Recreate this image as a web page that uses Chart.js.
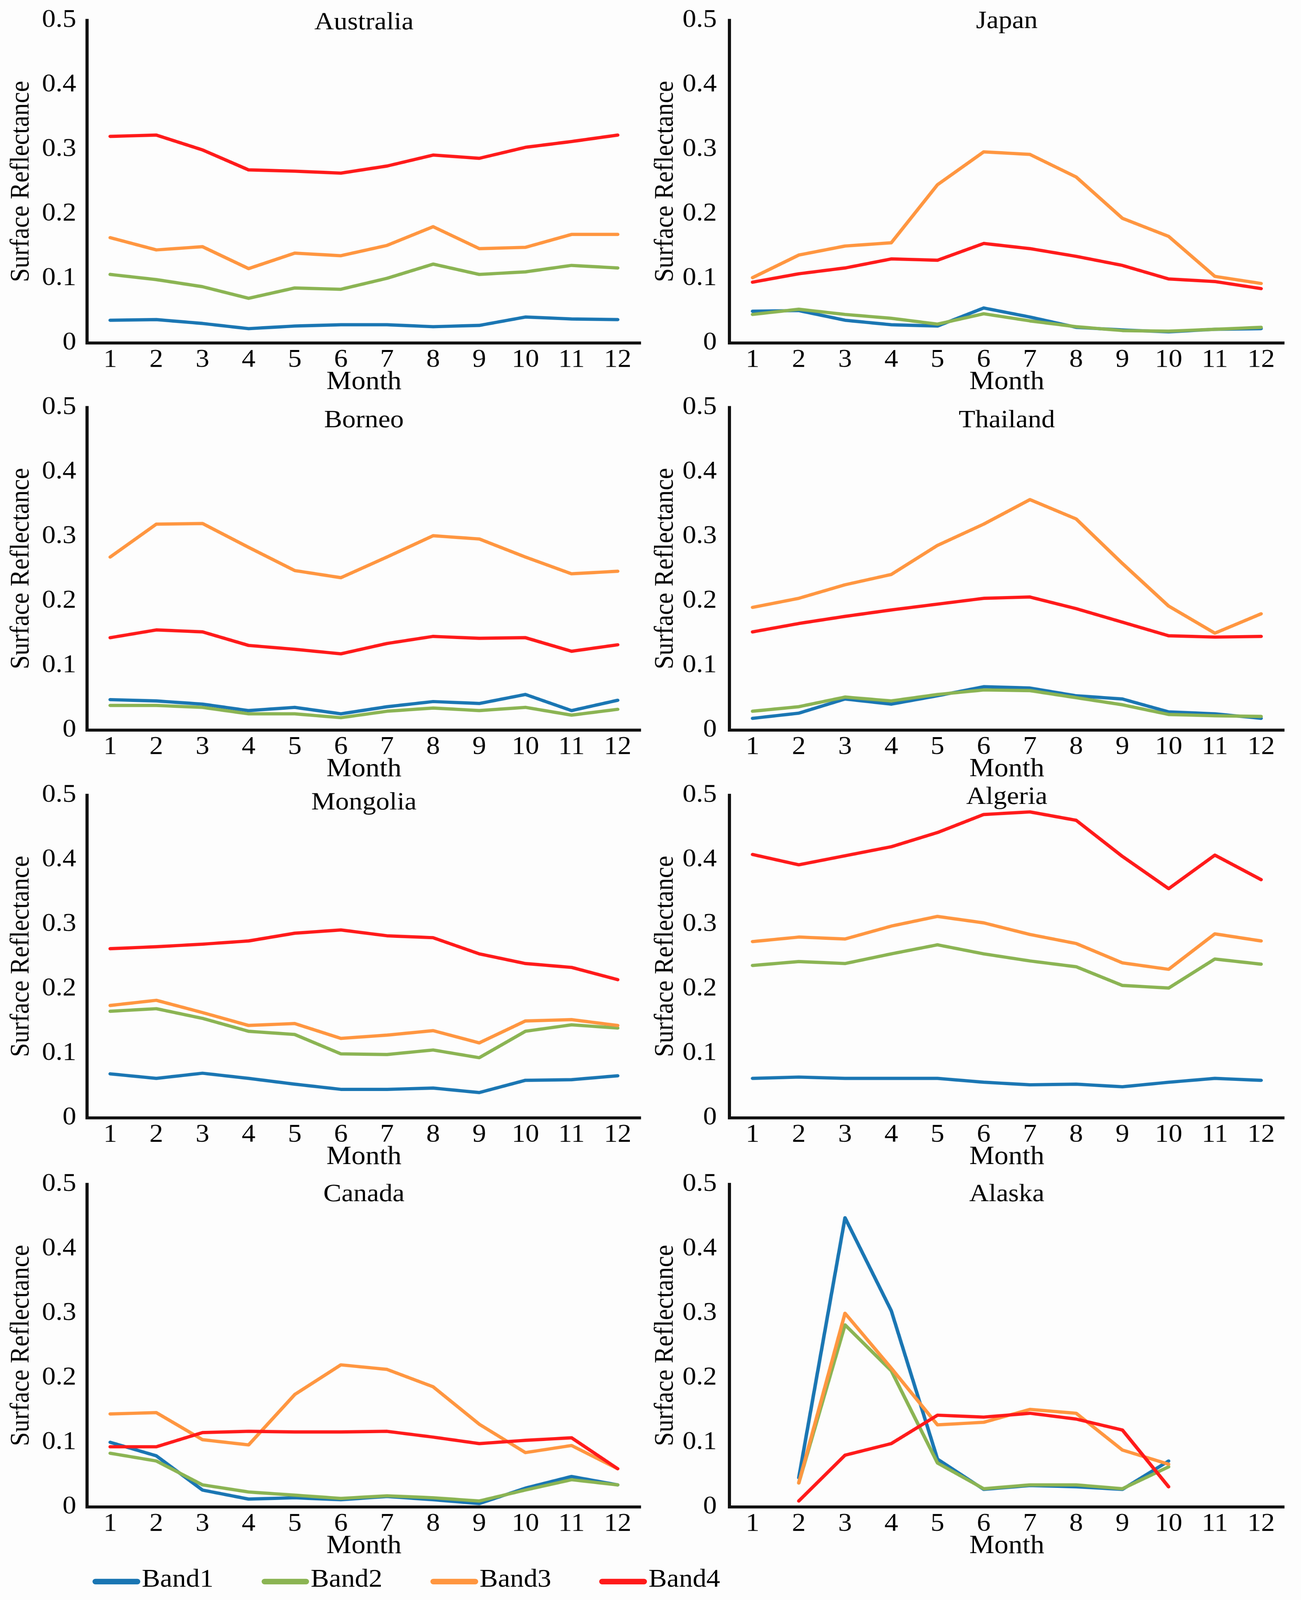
<!DOCTYPE html>
<html>
<head>
<meta charset="utf-8">
<script src="https://cdn.jsdelivr.net/npm/chart.js@4.4.1/dist/chart.umd.min.js"></script>
<style>
  html, body { margin: 0; padding: 0; background: #fdfdfd; overflow: hidden; }
  #page { position: absolute; left: 0; top: 0; width: 3700px; height: 4910px; transform-origin: 0 0; }
  #page canvas { position: absolute; }
  .lg-mark { position: absolute; height: 17px; border-radius: 9px; }
  .lg-text { position: absolute; font: 78px 'Liberation Serif', 'Times New Roman', serif;
             line-height: 78px; color: #000; white-space: nowrap; }
</style>
</head>
<body>
<div id="page"></div>
<script>
// ---- data ----
const months = ['1', '2', '3', '4', '5', '6', '7', '8', '9', '10', '11', '12'];
const yTickLabels = ['0', '0.1', '0.2', '0.3', '0.4', '0.5'];
const bandNames = ['Band1', 'Band2', 'Band3', 'Band4'];
const panelNames = ['Australia', 'Japan', 'Borneo', 'Thailand', 'Mongolia', 'Algeria', 'Canada', 'Alaska'];

// each list: [Band1, Band2, Band3, Band4]
const australia = [
    [0.035, 0.036, 0.030, 0.022, 0.026, 0.028, 0.028, 0.025, 0.027, 0.040, 0.037, 0.036],
    [0.106, 0.098, 0.087, 0.069, 0.085, 0.083, 0.100, 0.122, 0.106, 0.110, 0.120, 0.116],
    [0.163, 0.144, 0.149, 0.115, 0.139, 0.135, 0.151, 0.180, 0.146, 0.148, 0.168, 0.168],
    [0.320, 0.322, 0.299, 0.268, 0.266, 0.263, 0.274, 0.291, 0.286, 0.303, 0.312, 0.322]
];
const japan = [
    [0.049, 0.050, 0.035, 0.028, 0.026, 0.054, 0.040, 0.024, 0.020, 0.017, 0.021, 0.022],
    [0.044, 0.052, 0.044, 0.038, 0.029, 0.045, 0.034, 0.025, 0.019, 0.018, 0.021, 0.024],
    [0.101, 0.136, 0.150, 0.155, 0.245, 0.296, 0.292, 0.257, 0.193, 0.165, 0.103, 0.092],
    [0.094, 0.107, 0.116, 0.130, 0.128, 0.154, 0.146, 0.134, 0.120, 0.099, 0.095, 0.084]
];
const borneo = [
    [0.047, 0.045, 0.040, 0.030, 0.035, 0.025, 0.036, 0.044, 0.041, 0.055, 0.030, 0.046],
    [0.038, 0.038, 0.035, 0.025, 0.025, 0.019, 0.029, 0.034, 0.030, 0.035, 0.023, 0.032],
    [0.268, 0.319, 0.320, 0.283, 0.247, 0.236, 0.268, 0.301, 0.296, 0.268, 0.242, 0.246],
    [0.143, 0.155, 0.152, 0.131, 0.125, 0.118, 0.134, 0.145, 0.142, 0.143, 0.122, 0.132]
];
const thailand = [
    [0.018, 0.026, 0.048, 0.040, 0.053, 0.067, 0.065, 0.053, 0.048, 0.028, 0.025, 0.018],
    [0.029, 0.036, 0.051, 0.045, 0.055, 0.062, 0.061, 0.050, 0.039, 0.024, 0.022, 0.021],
    [0.190, 0.204, 0.225, 0.241, 0.286, 0.319, 0.357, 0.327, 0.258, 0.192, 0.150, 0.180],
    [0.152, 0.165, 0.176, 0.186, 0.195, 0.204, 0.206, 0.188, 0.167, 0.146, 0.144, 0.145]
];
const mongolia = [
    [0.068, 0.061, 0.069, 0.061, 0.052, 0.044, 0.044, 0.046, 0.039, 0.058, 0.059, 0.065],
    [0.165, 0.169, 0.154, 0.134, 0.129, 0.099, 0.098, 0.105, 0.093, 0.134, 0.144, 0.139],
    [0.174, 0.182, 0.163, 0.143, 0.146, 0.123, 0.128, 0.135, 0.116, 0.150, 0.152, 0.143],
    [0.262, 0.265, 0.269, 0.274, 0.286, 0.291, 0.282, 0.279, 0.254, 0.239, 0.233, 0.214]
];
const algeria = [
    [0.061, 0.063, 0.061, 0.061, 0.061, 0.055, 0.051, 0.052, 0.048, 0.055, 0.061, 0.058],
    [0.236, 0.242, 0.239, 0.254, 0.268, 0.254, 0.243, 0.234, 0.205, 0.201, 0.246, 0.238],
    [0.273, 0.280, 0.277, 0.297, 0.312, 0.302, 0.284, 0.270, 0.240, 0.230, 0.285, 0.274],
    [0.408, 0.392, 0.406, 0.420, 0.442, 0.470, 0.474, 0.461, 0.405, 0.355, 0.407, 0.369]
];
const canada = [
    [0.100, 0.079, 0.026, 0.012, 0.014, 0.011, 0.016, 0.011, 0.005, 0.029, 0.047, 0.034],
    [0.083, 0.071, 0.034, 0.023, 0.018, 0.013, 0.017, 0.014, 0.009, 0.026, 0.042, 0.034],
    [0.144, 0.146, 0.104, 0.096, 0.174, 0.220, 0.213, 0.186, 0.128, 0.084, 0.095, 0.059],
    [0.093, 0.093, 0.115, 0.117, 0.116, 0.116, 0.117, 0.108, 0.098, 0.103, 0.107, 0.059]
];
const alaska = [
    [null, 0.045, 0.448, 0.304, 0.074, 0.027, 0.033, 0.031, 0.027, 0.071, null, null],
    [null, 0.037, 0.282, 0.211, 0.068, 0.028, 0.034, 0.034, 0.028, 0.062, null, null],
    [null, 0.037, 0.300, 0.215, 0.127, 0.131, 0.151, 0.145, 0.088, 0.066, null, null],
    [null, 0.009, 0.080, 0.098, 0.142, 0.139, 0.145, 0.136, 0.119, 0.031, null, null]
];
const panelData = [australia, japan, borneo, thailand, mongolia, algeria, canada, alaska];

// ---- styles / layout ----
const bandColors = ['#1a76b3', '#8bb453', '#ff9640', '#ff1a1a'];
const FONT = "'Liberation Serif', 'Times New Roman', serif";
const SX = 0.9;                      // the original figure is squeezed sideways a bit
// the browser may give less height than the 4910px figure, so fit it in
const SY = Math.min(1, window.innerHeight / 4910);
const PANEL_W = 1665;                // px per column
const colAxisX = [223, 1867];        // x of the y axis line
const colAxisEnd = [1640, 3287];     // x where the x axis ends
const colTickPad = [31, 36];
const colTitlePad = [15, -3];
const rowTop = [62, 1250, 2440, 3634]; // y of 0.5
const plotH = 990;
const padTop = 62;
const xAxisH = 190;
const titleOffsets = [28, 24, 61, 61, 44, 27, 52, 52];

const page = document.getElementById('page');
page.style.transform = 'scale(' + SX + ',' + SY + ')';

Chart.defaults.font.family = FONT;
Chart.defaults.color = '#000';

// panel name drawn inside the plot, like the Excel chart titles
const panelTitlePlugin = {
    id: 'panelTitle',
    afterDraw(chart, args, opts) {
        const { ctx, chartArea } = chart;
        ctx.save();
        ctx.font = '77px ' + FONT;
        ctx.fillStyle = '#000';
        ctx.textAlign = 'center';
        ctx.textBaseline = 'alphabetic';
        ctx.fillText(opts.text, (chartArea.left + chartArea.right) / 2, chartArea.top + opts.offset);
        ctx.restore();
    }
};

panelNames.forEach((name, i) => {
    const row = Math.floor(i / 2);
    const col = i % 2;
    const cw = Math.round(PANEL_W / SX);
    const ch = padTop + plotH + xAxisH;
    const left0 = col * PANEL_W;

    const canvas = document.createElement('canvas');
    canvas.width = cw;
    canvas.height = ch;
    canvas.style.width = cw + 'px';
    canvas.style.height = ch + 'px';
    canvas.style.left = (left0 / SX) + 'px';
    canvas.style.top = (rowTop[row] - padTop) + 'px';
    page.appendChild(canvas);

    const yAxisW = (colAxisX[col] - left0) / SX;
    const padRight = (left0 + PANEL_W - colAxisEnd[col]) / SX;

    new Chart(canvas.getContext('2d'), {
        type: 'line',
        data: {
            labels: months,
            datasets: panelData[i].map((vals, b) => ({
                label: bandNames[b],
                data: vals,
                borderColor: bandColors[b],
                backgroundColor: bandColors[b],
                borderWidth: 10,
                pointRadius: 0,
                tension: 0,
                borderJoinStyle: 'round',
                borderCapStyle: 'round',
                spanGaps: false,
                order: 3 - b
            }))
        },
        options: {
            responsive: false,
            animation: false,
            devicePixelRatio: 1,
            layout: { padding: { top: padTop, right: padRight, left: 0, bottom: 0 } },
            plugins: {
                legend: { display: false },
                tooltip: { enabled: false },
                panelTitle: { text: name, offset: titleOffsets[i] }
            },
            scales: {
                x: {
                    offset: true,
                    grid: { display: false, drawTicks: false },
                    border: { display: true, color: '#111', width: 9 },
                    ticks: { padding: 6, font: { size: 78 }, color: '#000', maxRotation: 0, autoSkip: false },
                    title: { display: true, text: 'Month', color: '#000', font: { size: 80 }, padding: { top: 0, bottom: 21 } },
                    afterFit: s => { s.height = xAxisH; }
                },
                y: {
                    min: 0,
                    max: 0.5,
                    grid: { display: false, drawTicks: false },
                    border: { display: true, color: '#111', width: 9 },
                    ticks: {
                        stepSize: 0.1,
                        padding: colTickPad[col],
                        // small line height so the top label doesn't push the plot down
                        font: { size: 78, lineHeight: 0.6 },
                        color: '#000',
                        callback: v => yTickLabels[Math.round(v * 10)]
                    },
                    title: { display: true, text: 'Surface Reflectance', color: '#000', font: { size: 77 },
                             padding: { top: colTitlePad[col], bottom: 0 } },
                    afterFit: s => { s.width = yAxisW; }
                }
            }
        },
        plugins: [panelTitlePlugin]
    });
});

// legend row under the last panels
bandNames.forEach((band, b) => {
    const markLeft = 237 + b * 432.3;
    const mark = document.createElement('div');
    mark.className = 'lg-mark';
    mark.style.background = bandColors[b];
    mark.style.left = (markLeft / SX) + 'px';
    mark.style.width = (122 / SX) + 'px';
    mark.style.top = '4845px';
    page.appendChild(mark);

    const txt = document.createElement('div');
    txt.className = 'lg-text';
    txt.textContent = band;
    txt.style.left = ((markLeft + 126) / SX) + 'px';
    txt.style.top = '4804px';
    page.appendChild(txt);
});
</script>
</body>
</html>
